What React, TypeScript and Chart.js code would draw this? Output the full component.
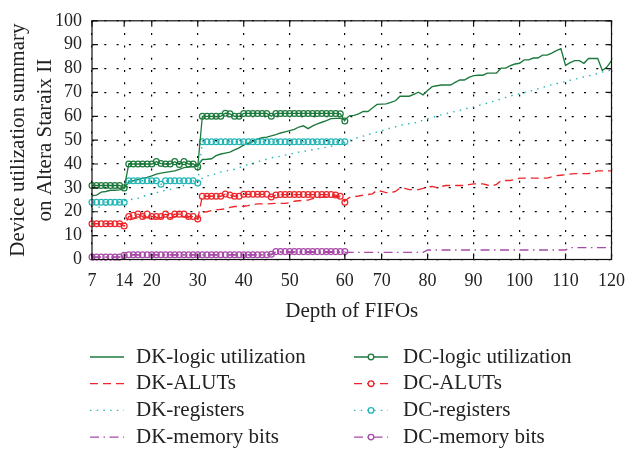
import { useEffect, useRef } from 'react';
import { Chart, registerables } from 'chart.js';

Chart.register(...registerables);

// FIFO depth of each sample (category axis); only the depths in tickDepths are labelled
const depths = [
  7, 8, 9, 10, 11, 12, 13, 14, 15, 16, 17, 18, 19, 20, 21, 22, 23, 24, 25, 26, 27, 28,
  29, 30, 31, 32, 33, 34, 35, 36, 37, 38, 39, 40, 41, 42, 43, 44, 45, 46, 47, 48, 49, 50,
  51, 52, 53, 54, 55, 56, 57, 57, 58, 58, 59, 60,
  62, 63, 65, 66, 67, 68, 69, 70,
  71, 72, 73, 74, 75, 76, 77, 78, 79, 80, 81, 82, 83, 84, 85, 86, 87, 88, 89, 90,
  91, 92, 93, 94, 95, 96, 97, 98, 99, 100, 101, 102, 103, 104, 105, 106, 107, 108, 109, 110,
  111, 112, 113, 114, 115, 116, 117, 118, 119, 120,
];
const tickDepths = [7, 14, 20, 30, 40, 50, 60, 70, 80, 90, 100, 110, 120];
const yTicks = [0, 10, 20, 30, 40, 50, 60, 70, 80, 90, 100];

const dkLogic = [
  26.8, 27, 28.2, 28.5, 29, 29, 29.2, 29.8, 32.5, 33,
  33.5, 34, 34.4, 35, 35.8, 36.2, 36.5, 36.8, 37.1, 37.8,
  38.5, 38.7, 38.9, 39.2, 41.9, 42, 42.2, 43.5, 44.2, 44.6,
  45, 45.9, 46.8, 48, 48.7, 49.4, 50.4, 51, 51.3, 51.8,
  52.3, 53, 53.5, 54, 54.5, 55.5, 56, 54.8, 56, 56.8,
  57.5, 58.2, 59, 59.1, 59.1, 58.5, 60.2, 60.4, 61, 62,
  62, 63.5, 65, 65.1, 65.2, 65.8, 66.5, 68.4, 68.4, 68.4,
  69.2, 70.1, 69, 70.8, 72.4, 72.8, 73.1, 73.1, 73.1, 74.2,
  75.2, 75.2, 76.3, 77, 77.2, 77.2, 78.1, 78.1, 78.1, 80.2,
  80.2, 81.2, 81.9, 82.2, 83.6, 83.6, 84.4, 84.4, 85.6, 85.6,
  86.5, 87.5, 88.3, 81.3, 82.5, 83.3, 83.3, 82.2, 84.2, 84.2,
  84.2, 79.2, 80.6, 83.3,
];
const dkAluts = [
  15, 15, 15, 15, 15, 15, 15, 15, 16.5, 17,
  17.5, 17.5, 17.5, 17.5, 17.5, 17.5, 17.5, 17.5, 18, 18,
  18, 17.5, 17.5, 17, 19.8, 20, 20.5, 20.8, 21, 21.2,
  21.8, 22.2, 22.2, 22.3, 22.6, 23, 23.3, 23.3, 23.3, 23.4,
  23.5, 23.5, 23.5, 23.8, 24.4, 24.6, 24.8, 24.9, 25.5, 25.9,
  26, 26.2, 26.4, 26.5, 26, 24.5, 26, 26.3, 26.6, 27,
  27.2, 27.5, 29, 28.5, 28, 28, 28.5, 30, 29.8, 29.3,
  29.3, 29.3, 29.8, 30.4, 30.6, 30.1, 30.6, 31, 31, 31,
  31, 31, 31.4, 31.7, 31.7, 31.7, 31.2, 30.8, 31.5, 33.1,
  33.1, 33.1, 33.5, 34.1, 34.1, 34.1, 34.1, 34.1, 34.1, 34.1,
  34.6, 35.1, 35.3, 35.5, 35.8, 36, 36, 36, 36, 36.6,
  37.1, 37.1, 37.1, 37.1,
];
const dkRegisters = [
  21, 21.6, 22.2, 22.7, 23.2, 23.6, 24, 24.5, 25, 25.3,
  25.6, 26.3, 27, 27.6, 28, 28.5, 29, 29.4, 29.8, 30.3,
  31, 31.7, 32.4, 33.5, 34, 35, 35.3, 36, 36.6, 37,
  37.5, 37.8, 38.5, 39.3, 39.8, 40.3, 41, 41.5, 42, 42.6,
  42.9, 43.3, 43.7, 44.1, 44.6, 45, 45.3, 45.6, 46, 46.3,
  46.7, 47, 47.4, 47.9, 48.4, 49, 49.8, 50.6, 51.2, 51.7,
  52.3, 52.9, 53.4, 53.9, 54.6, 55.1, 55.6, 56.2, 56.6, 56.9,
  57.1, 57.7, 58.4, 59, 59.5, 60.1, 60.6, 61.1, 61.6, 62,
  62.5, 63, 63.5, 63.9, 64.5, 65, 65.5, 66.1, 66.6, 67.3,
  67.9, 68.5, 69, 69.5, 69.9, 70.4, 70.9, 71.5, 72.1, 72.7,
  73.2, 73.7, 74.1, 74.5, 75.1, 75.5, 76, 76.5, 76.9, 77.4,
  77.9, 78.5, 79, 79.3,
];
const dkMemory = [
  1, 1, 1, 1, 1, 1, 1, 1.5, 2, 2,
  2, 2, 2, 2, 2, 2, 2, 2, 2, 2,
  2, 2, 2, 2, 2, 2, 2, 2, 2, 2,
  2, 2, 2, 2, 2, 2, 2, 2, 2, 2,
  3, 3, 3, 3, 3, 3, 3, 3, 3, 3,
  3, 3, 3, 3, 3, 3, 3, 3, 3, 3,
  3, 3, 3, 3, 3, 3, 3, 3, 3, 3,
  3, 3, 3, 4, 4, 4, 4, 4, 4, 4,
  4, 4, 4, 4, 4, 4, 4, 4, 4, 4,
  4, 4, 4, 4, 4, 4, 4, 4, 4, 4,
  4, 4, 4, 4, 5, 5, 5, 5, 5, 5,
  5, 5, 5, 5,
];

const dcLogic = [
  31, 31, 31, 31, 31, 31, 31, 30, 40, 40,
  40, 40, 40, 40, 41, 40.2, 40, 40, 41, 39.8,
  41, 40, 40, 38.8, 60, 60, 60, 60, 60, 61.3,
  61, 60, 60, 61.2, 61.2, 61.2, 61.2, 61.2, 61.2, 60,
  61.2, 61.2, 61.2, 61.2, 61.2, 61.2, 61.2, 61.2, 61.2, 61.2,
  61.2, 61.2, 61.2, 61.2, 61, 58,
];
const dcAluts = [
  15, 15, 15, 15, 15, 15, 15, 14, 18, 18.5,
  19, 18, 19, 18, 18, 18, 19, 18, 19, 19,
  19, 18, 18, 17, 26.5, 26.5, 26.5, 26.5, 26.5, 27.4,
  27, 26.5, 26.5, 27.3, 27.3, 27.3, 27.3, 27.3, 27.3, 26.2,
  27, 27.2, 27.2, 27.2, 27.2, 27.2, 27.2, 27.2, 27.2, 27.2,
  27.2, 27.2, 27.2, 27, 26.5, 24,
];
const dcRegisters = [
  24, 24, 24, 24, 24, 24, 24, 24, 33, 33,
  33, 33, 33, 33, 33, 31.5, 33, 33, 33, 33,
  33, 33, 33, 32, 49.3, 49.3, 49.3, 49.3, 49.3, 49.3,
  49.3, 49.3, 49.3, 49.3, 49.3, 49.3, 49.3, 49.3, 49.3, 49.3,
  49.3, 49.3, 49.3, 49.3, 49.3, 49.3, 49.3, 49.3, 49.3, 49.3,
  49.3, 49.3, 49.3, 49.3, 49.3, 49.3,
];
const dcMemory = [
  1, 1, 1, 1, 1, 1, 1, 1.8, 2, 2,
  2, 2, 2, 2, 2, 2, 2, 2, 2, 2,
  2, 2, 2, 2, 2, 2, 2, 2, 2, 2,
  2, 2, 2, 2, 2, 2, 2, 2, 2, 2.2,
  3.3, 3.3, 3.3, 3.3, 3.3, 3.3, 3.3, 3.3, 3.3, 3.3,
  3.3, 3.3, 3.3, 3.3, 3.3, 3.3,
];

const dkNames = ['DK-logic utilization', 'DK-ALUTs', 'DK-registers', 'DK-memory bits'];
const dcNames = ['DC-logic utilization', 'DC-ALUTs', 'DC-registers', 'DC-memory bits'];

const FONT = "'Liberation Serif', 'Times New Roman', serif";
const TEXT = '#222';
const COLORS = ['rgb(28,122,60)', 'rgb(236,38,42)', 'rgb(36,182,182)', 'rgb(168,74,168)'];
const DASHES = [[], [8, 5], [1.5, 5.2], [9, 4.5, 1.5, 4.5]];
const GRID_DOTS = '#000';
const GRID_DASH = [2, 10.3];

const framePlugin = {
  id: 'frame',
  afterDatasetsDraw(chart: any) {
    const { ctx, chartArea: a, scales } = chart;
    ctx.save();
    ctx.strokeStyle = '#111';
    ctx.lineWidth = 1.2;
    ctx.setLineDash([]);
    ctx.strokeRect(a.left, a.top, a.right - a.left, a.bottom - a.top);
    const L = 6;
    ctx.beginPath();
    scales.y.ticks.forEach((_t: any, i: number) => {
      const y = scales.y.getPixelForTick(i);
      ctx.moveTo(a.left, y);
      ctx.lineTo(a.left + L, y);
      ctx.moveTo(a.right, y);
      ctx.lineTo(a.right - L, y);
    });
    scales.x.ticks.forEach((t: any, i: number) => {
      if (!t.label) return;
      const x = scales.x.getPixelForTick(i);
      ctx.moveTo(x, a.bottom);
      ctx.lineTo(x, a.bottom - L);
      ctx.moveTo(x, a.top);
      ctx.lineTo(x, a.top + L);
    });
    ctx.stroke();
    ctx.restore();
  },
};

const legendPlugin = {
  id: 'gridLegend',
  afterDraw(chart: any) {
    const { ctx } = chart;
    const ds = chart.data.datasets;
    const rowY0 = 357;
    const rowGap = 26.7;
    const cols = [
      { lineX: 90, lineW: 34, textX: 136, names: dkNames, marker: false },
      { lineX: 354, lineW: 34, textX: 403, names: dcNames, marker: true },
    ];
    ctx.save();
    cols.forEach((c) => {
      c.names.forEach((name, r) => {
        const d = ds.find((x: any) => x.label === name);
        const y = rowY0 + r * rowGap;
        ctx.strokeStyle = d.borderColor;
        ctx.lineWidth = 1.3;
        ctx.setLineDash(d.borderDash || []);
        ctx.beginPath();
        ctx.moveTo(c.lineX, y);
        ctx.lineTo(c.lineX + c.lineW, y);
        ctx.stroke();
        ctx.setLineDash([]);
        if (c.marker) {
          ctx.beginPath();
          ctx.fillStyle = '#fff';
          ctx.arc(c.lineX + c.lineW / 2, y, 2.8, 0, Math.PI * 2);
          ctx.fill();
          ctx.lineWidth = 1.3;
          ctx.stroke();
        }
        ctx.fillStyle = TEXT;
        ctx.font = `21px ${FONT}`;
        ctx.textAlign = 'left';
        ctx.textBaseline = 'middle';
        ctx.fillText(name, c.textX, y);
      });
    });
    ctx.restore();
  },
};

export default function App() {
  const ref = useRef<HTMLCanvasElement | null>(null);

  useEffect(() => {
    if (!ref.current) return;
    const dkSeries = [dkLogic, dkAluts, dkRegisters, dkMemory];
    const dcSeries = [dcLogic, dcAluts, dcRegisters, dcMemory];
    const datasets: any[] = [];
    dcSeries.forEach((data, k) => {
      datasets.push({
        label: dcNames[k],
        data,
        borderColor: COLORS[k],
        borderDash: DASHES[k],
        borderWidth: 1.3,
        pointRadius: 2.9,
        pointStyle: 'circle',
        pointBorderWidth: 1.25,
        pointBorderColor: COLORS[k],
        pointBackgroundColor: 'rgba(255,255,255,0)',
        fill: false,
        tension: 0,
        clip: false,
      });
    });
    dkSeries.forEach((data, k) => {
      datasets.push({
        label: dkNames[k],
        data,
        borderColor: COLORS[k],
        borderDash: DASHES[k],
        borderWidth: 1.35,
        pointRadius: 0,
        fill: false,
        tension: 0,
      });
    });

    const chart = new Chart(ref.current, {
      type: 'line',
      data: { labels: depths.map(String), datasets },
      options: {
        animation: false,
        responsive: false,
        layout: { padding: { left: 0, right: 18, top: 14, bottom: 120.5 } },
        plugins: { legend: { display: false }, tooltip: { enabled: false } },
        scales: {
          x: {
            type: 'category',
            grid: {
              drawTicks: false,
              lineWidth: 1.2,
              color: (c: any) => (c.tick && c.tick.label ? GRID_DOTS : 'rgba(0,0,0,0)'),
            },
            border: { display: false, dash: GRID_DASH },
            ticks: {
              autoSkip: false,
              maxRotation: 0,
              minRotation: 0,
              padding: 11,
              color: TEXT,
              font: { family: FONT, size: 18 },
              callback: (_v: any, i: number) => {
                const d = depths[i];
                return tickDepths.includes(d) && depths.indexOf(d) === i ? String(d) : '';
              },
            },
            title: {
              display: true,
              text: 'Depth of FIFOs',
              color: TEXT,
              font: { family: FONT, size: 21, lineHeight: 1.1 },
              padding: { top: 0, bottom: 6 },
            },
            afterFit: (s: any) => {
              s.height = 70;
            },
          },
          y: {
            min: 0,
            max: 100,
            afterBuildTicks: (s: any) => {
              s.ticks = yTicks.map((v) => ({ value: v }));
            },
            grid: { drawTicks: false, lineWidth: 1.2, color: GRID_DOTS },
            border: { display: false, dash: GRID_DASH },
            ticks: {
              autoSkip: false,
              padding: 10,
              color: TEXT,
              font: { family: FONT, size: 18 },
            },
            title: {
              display: true,
              text: ['Device utilization summary', 'on Altera Staraix II'],
              color: TEXT,
              font: { family: FONT, size: 21, lineHeight: 1.27 },
              padding: { top: 5, bottom: 0 },
            },
            afterFit: (s: any) => {
              s.width = 92;
            },
          },
        },
      } as any,
      plugins: [framePlugin, legendPlugin],
    });
    return () => chart.destroy();
  }, []);

  return (
    <div style={{ position: 'fixed', left: 0, top: 0, width: 636, height: 450, background: '#fff' }}>
      <canvas ref={ref} width={636} height={450} style={{ display: 'block' }} />
    </div>
  );
}
